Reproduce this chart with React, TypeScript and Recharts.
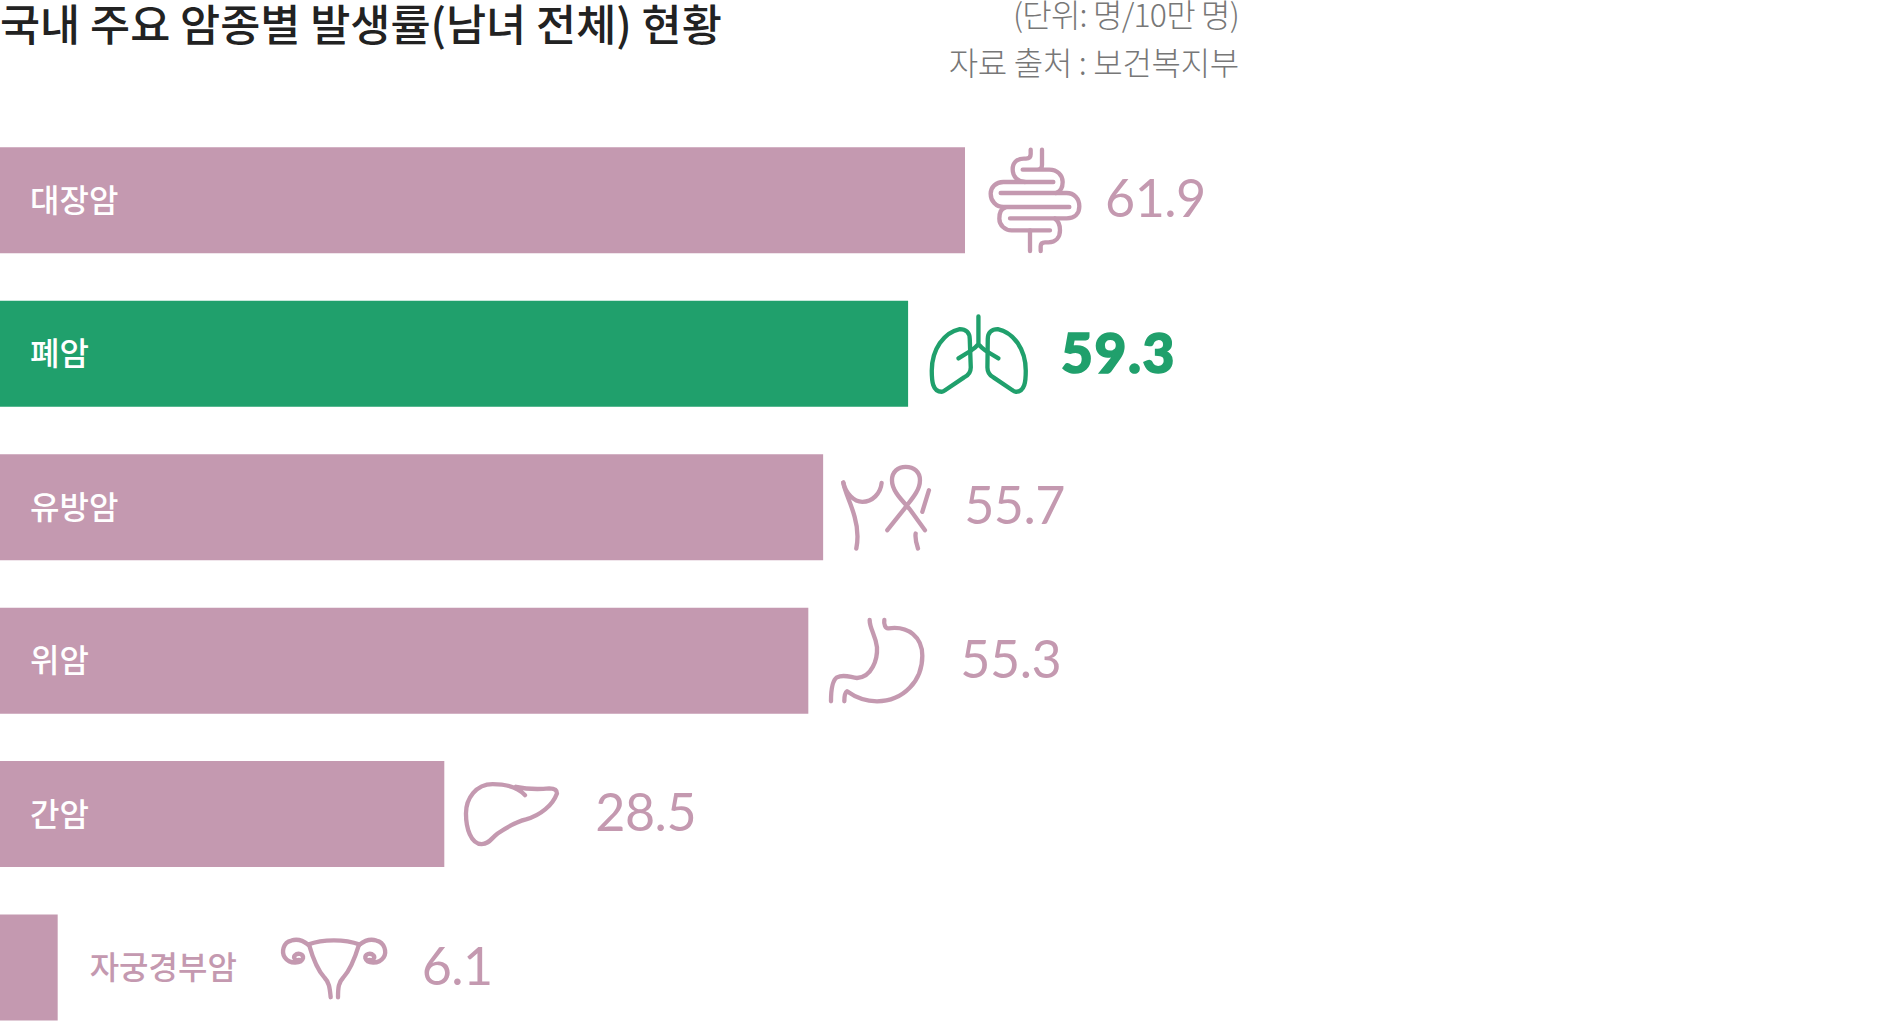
import { BarChart, Bar, XAxis, YAxis, Cell, LabelList } from 'recharts';

const PINK = '#c499b0';
const GREEN = '#20a06c';
const KR_FONT = '"Noto Sans CJK KR", "Noto Sans", sans-serif';
const NUM_FONT = 'Lato, sans-serif';

const categories = ['대장암', '폐암', '유방암', '위암', '간암', '자궁경부암'];
// printed figures
const valueLabels = ['61.9', '59.3', '55.7', '55.3', '28.5', '6.1'];
// the drawn bars are not to scale with the printed figures, so these are read off the bar lengths
const barLengths = [61.9, 58.25, 52.8, 51.85, 28.5, 3.7];
const highlighted = ['폐암'];

const rows = categories.map((name, i) => ({
  name,
  length: barLengths[i],
  label: valueLabels[i],
}));

// Icons are traced at 3x, each with its own anchor (bar end, bar middle) and the gap to its number
const ICONS: Record<string, { ox: number; oy: number; gap: number; paths: string[] }> = {
  대장암: {
    ox: 15, oy: 210, gap: 140,
    paths: [
      'M212 58 V72 Q212 85 198 85 H192 C170 85 158 98 158 117 C158 140 175 155 195 155 H280',
      'M195 155 H130 C108 155 92 170 92 190 C92 212 108 230 130 230 H328',
      'M246 58 V104 Q246 118 232 118 H188 M232 118 H268 C292 118 308 135 308 155 C308 172 300 184 288 188',
      'M122 188 H320 C342 188 358 205 358 228 C358 250 345 264 320 264 H150',
      'M135 232 C122 236 118 250 118 265 C118 285 135 300 155 300 H270',
      'M210 362 V300 M242 362 V348 Q242 336 255 336 H265 C288 336 300 320 300 300 C300 285 295 272 285 265',
    ],
  },
  폐암: {
    ox: -33, oy: 144, gap: 153,
    paths: [
      'M178 32 V115 M118 158 L155 135 Q170 125 178 115 Q186 125 200 135 L238 158',
      'M152 100 C152 80 140 70 122 70 C75 80 38 130 38 195 C38 225 40 258 68 258 Q72 258 80 252 L135 215 Q155 205 155 185 Z',
      'M206 100 C206 80 218 70 236 70 C283 80 320 130 320 195 C320 225 318 258 290 258 Q286 258 278 252 L223 215 Q205 205 205 185 Z',
    ],
  },
  유방암: {
    ox: 7.5, oy: 171, gap: 141,
    paths: [
      'M68 97 C72 125 90 155 102 200 C112 235 112 270 107 295',
      'M68 97 C75 130 100 155 125 155 C155 155 180 130 183 98',
      'M200 240 L248 180 C265 155 298 125 298 90 C298 65 280 50 255 50 C232 50 214 65 214 90 C214 125 250 155 268 178 L313 240',
      'M325 120 L305 185 M285 250 C283 265 287 280 292 295',
    ],
  },
  위암: {
    ox: -36, oy: 630, gap: 152,
    paths: [
      'M148 508 C148 535 165 550 170 590 C172 625 155 680 110 682 C90 680 70 670 50 680 C35 690 32 720 32 752',
      'M192 508 C190 520 195 535 205 533 C265 525 306 560 306 615 C306 690 250 752 170 752 C135 752 105 740 80 722 C75 725 72 740 72 752',
    ],
  },
  간암: {
    ox: 520, oy: 132, gap: 151,
    paths: [
      'M762 75 C740 50 700 42 665 42 C615 42 585 85 585 130 C585 175 600 222 632 222 C655 222 660 205 680 190 C710 170 735 155 765 148 C810 135 845 105 858 70 C858 58 845 55 835 55 C800 58 770 58 735 50',
    ],
  },
  자궁경부암: {
    ox: -636, oy: 591, gap: 364,
    paths: [
      'M115 522 C160 505 225 505 270 522',
      'M115 522 C100 510 80 505 65 510 C40 515 35 545 45 560 C60 582 95 580 100 563 C102 550 85 545 75 555 C70 562 78 572 88 568',
      'M270 522 C285 510 305 505 320 510 C345 515 352 545 342 560 C327 582 292 580 287 563 C285 550 302 545 312 555 C317 562 309 572 299 568',
      'M118 522 C130 565 145 600 165 622 C178 635 180 650 183 680',
      'M268 522 C255 565 240 600 220 622 C207 635 205 650 205 680',
    ],
  },
};

function RowDecoration(props: any) {
  const box = props.viewBox ?? props;
  const { x, y, width, height } = box;
  const row = rows[props.index];
  const icon = ICONS[row.name];
  const isHot = highlighted.includes(row.name);
  const color = isHot ? GREEN : PINK;
  const end = x + width;
  const mid = y + height / 2;
  const fits = width > 100;

  return (
    <g>
      <text
        x={fits ? x + 30 : end + 32}
        y={mid - 2.5}
        dominantBaseline="central"
        fontFamily={KR_FONT}
        fontSize={32}
        fontWeight={500}
        fill={fits ? '#fff' : PINK}
      >
        {row.name}
      </text>
      <g
        transform={`translate(${end},${mid}) scale(${1 / 3}) translate(${-icon.ox},${-icon.oy})`}
        fill="none"
        stroke={color}
        strokeWidth={13}
        strokeLinecap="round"
        strokeLinejoin="round"
      >
        {icon.paths.map((d, i) => <path key={i} d={d} />)}
      </g>
      <text
        x={end + icon.gap}
        y={mid + (isHot ? 19 : 17)}
        fontFamily={NUM_FONT}
        fontSize={isHot ? 55 : 52}
        fontWeight={isHot ? 900 : 400}
        letterSpacing={isHot ? 1.5 : -0.5}
        fill={color}
        stroke={isHot ? color : 'none'}
        strokeWidth={isHot ? 1.6 : 0}
      >
        {row.label}
      </text>
    </g>
  );
}

const subtitleStyle = {
  position: 'absolute', right: 1902 - 1239, textAlign: 'right', whiteSpace: 'nowrap',
  fontFamily: KR_FONT, fontSize: 32, fontWeight: 300, color: '#777',
} as const;

export default function App() {
  return (
    <div style={{ position: 'absolute', left: 0, top: 0, width: 1902, height: 1021, overflow: 'hidden', background: '#fff' }}>
      <div
        style={{
          position: 'absolute', left: 0, top: 0, lineHeight: '44px', whiteSpace: 'nowrap',
          fontFamily: KR_FONT, fontSize: 43.6, fontWeight: 500, color: '#222',
        }}
      >
        국내 주요 암종별 발생률(남녀 전체) 현황
      </div>
      <div style={{ ...subtitleStyle, top: 0, lineHeight: '26px', letterSpacing: -0.8 }}>
        (단위: 명/10만 명)
      </div>
      <div style={{ ...subtitleStyle, top: 37, lineHeight: '48px', letterSpacing: -0.3 }}>
        자료 출처 : 보건복지부
      </div>
      <BarChart
        width={1902}
        height={1045}
        data={rows}
        layout="vertical"
        barSize={106}
        margin={{ top: 123.3, right: 937, bottom: 1, left: 0 }}
      >
        <XAxis type="number" domain={[0, 61.9]} hide />
        <YAxis type="category" dataKey="name" hide />
        <Bar dataKey="length" isAnimationActive={false}>
          {rows.map(row => (
            <Cell key={row.name} fill={highlighted.includes(row.name) ? GREEN : PINK} />
          ))}
          <LabelList dataKey="label" content={RowDecoration} />
        </Bar>
      </BarChart>
    </div>
  );
}
